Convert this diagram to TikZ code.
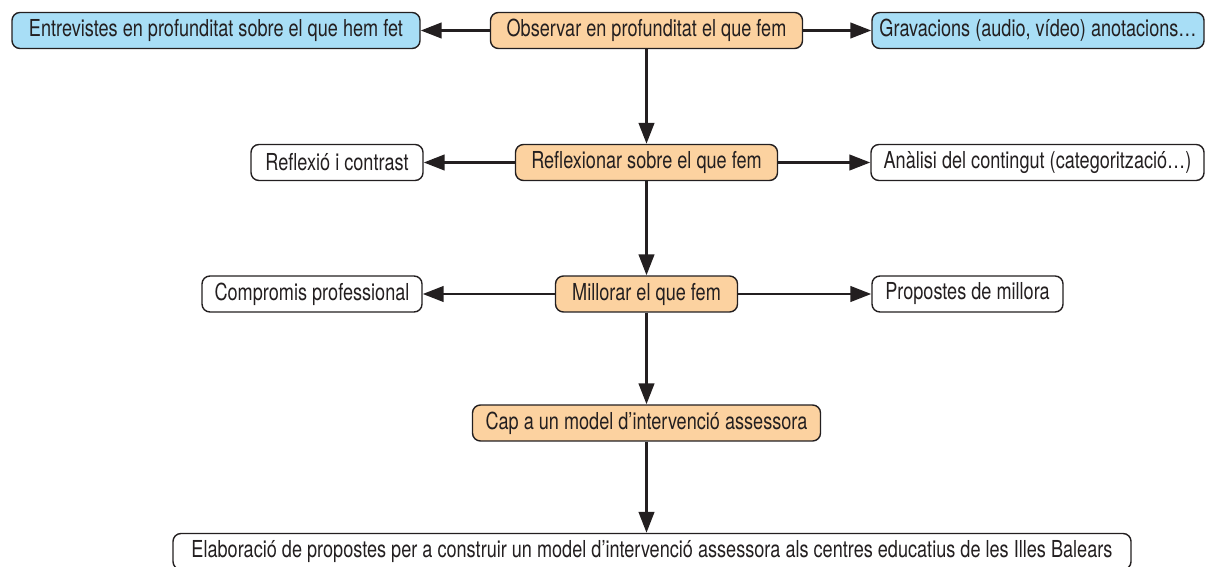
\documentclass[tikz,border=0pt]{standalone}
\usepackage{fontspec}
\setmainfont[FakeStretch=0.775]{TeX Gyre Heros}
\usetikzlibrary{arrows.meta}
\definecolor{peach}{RGB}{252,210,160}
\definecolor{sky}{RGB}{168,222,246}
\definecolor{ink}{RGB}{35,31,32}

\begin{document}
\begin{tikzpicture}[x=0.02cm,y=-0.02cm,
  box/.style={draw=ink,line width=0.8pt,rounded corners=4.5pt,inner sep=0pt,
    minimum height=0.72cm,text=ink,font=\fontsize{13.3}{15}\selectfont},
  main/.style={box,fill=peach},
  side/.style={box,fill=sky},
  plain/.style={box,fill=white}]
\def\p{0.02cm}
\def\l{0.42cm}
\def\w{0.31cm}
\useasboundingbox (0,0) rectangle (1209,567);

% first row
\node [side, minimum width=408*\p, name=l1] at (216,30.5) {Entrevistes en profunditat sobre el que hem fet};
\node [main, minimum width=312*\p, name=c1] at (646.5,30.5) {Observar en profunditat el que fem};
\node [side, minimum width=332*\p, name=r1] at (1038,30.5) {Gravacions (audio, vídeo) anotacions…};
% second row
\node [plain, minimum width=172*\p, name=l2] at (337,162.5) {Reflexió i contrast};
\node [main, minimum width=262*\p, name=c2] at (646.5,162.5) {Reflexionar sobre el que fem};
\node [plain, minimum width=333*\p, name=r2] at (1037.5,162.5) {Anàlisi del contingut (categorització…)};
% third row
\node [plain, minimum width=220*\p, name=l3] at (312,294) {Compromis professional};
\node [main, minimum width=182*\p, name=c3] at (646.5,294) {Millorar el que fem};
\node [plain, minimum width=191*\p, name=r3] at (967.5,294) {Propostes de millora};
% bottom
\node [main, minimum width=348*\p, name=c4] at (646.5,423) {Cap a un model d’intervenció assessora};
\node [plain, minimum width=958*\p, name=c5] at (652,551.5) {Elaboració de propostes per a construir un model d’intervenció assessora als centres educatius de les Illes Balears};

\draw [line width=1.6pt,ink,-{Triangle[length=\l, width=\w]}](c1) to (l1);
\draw [line width=1.6pt,ink,-{Triangle[length=\l, width=\w]}](c1) to (r1);
\draw [line width=1.6pt,ink,-{Triangle[length=\l, width=\w]}](c1) to (c2);
\draw [line width=1.6pt,ink,-{Triangle[length=\l, width=\w]}](c2) to (l2);
\draw [line width=1.6pt,ink,-{Triangle[length=\l, width=\w]}](c2) to (r2);
\draw [line width=1.6pt,ink,-{Triangle[length=\l, width=\w]}](c2) to (c3);
\draw [line width=1.6pt,ink,-{Triangle[length=\l, width=\w]}](c3) to (l3);
\draw [line width=1.6pt,ink,-{Triangle[length=\l, width=\w]}](c3) to (r3);
\draw [line width=1.6pt,ink,-{Triangle[length=\l, width=\w]}](c3) to (c4);
\draw [line width=1.6pt,ink,-{Triangle[length=\l, width=\w]}](c4.south) to (c4 |- c5.north);
\end{tikzpicture}
\end{document}
